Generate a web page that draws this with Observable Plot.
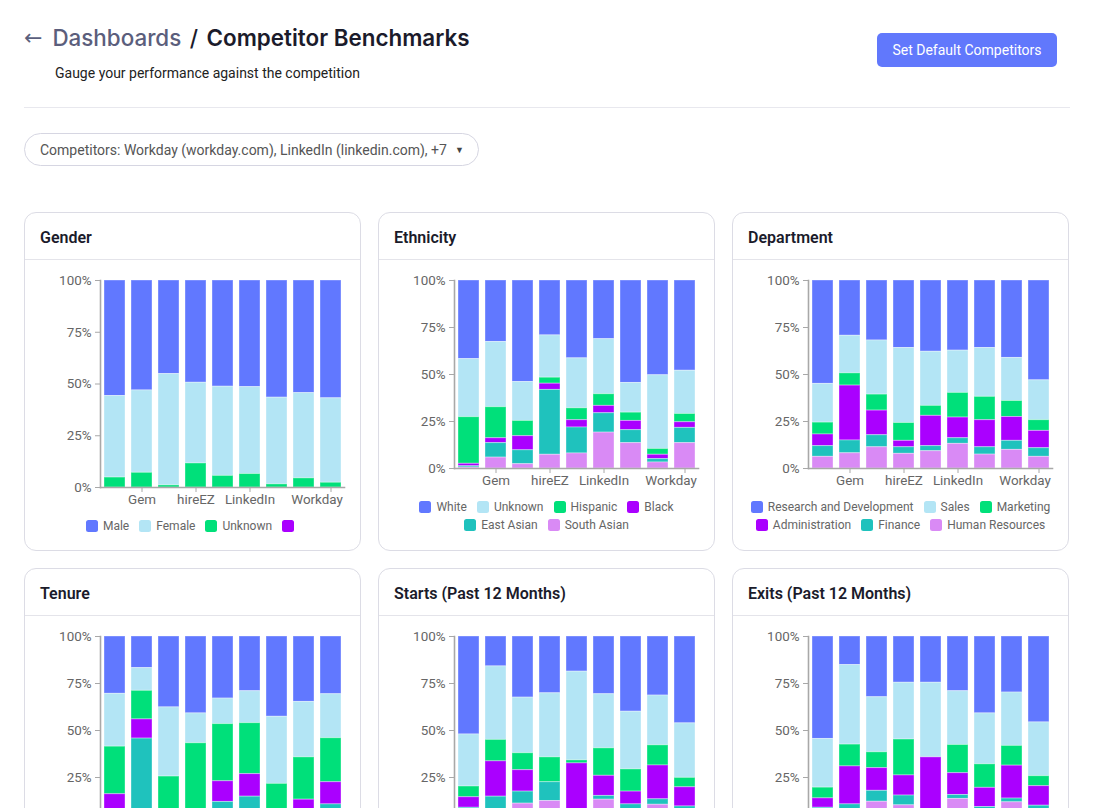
<!DOCTYPE html>
<html>
<head>
<meta charset="utf-8">
<script src="https://cdn.jsdelivr.net/npm/d3@7"></script>
<script src="https://cdn.jsdelivr.net/npm/@observablehq/plot@0.6"></script>
<style>
html,body{margin:0;padding:0;overflow:hidden;background:#fff;}
body{width:1102px;height:808px;position:relative;font-family:Roboto,sans-serif;}
.crumb{position:absolute;left:24px;top:22px;height:32px;line-height:32px;font-family:Inter,sans-serif;font-size:22.4px;white-space:nowrap;display:flex;align-items:center;}
.crumb .arrow{color:#5b5f7d;font-size:22px;margin-right:10px;margin-left:0;font-family:"DejaVu Sans",sans-serif;}
.crumb .parent{color:#5b5e7c;font-weight:500;}
.crumb .sep{color:#1b1b2b;margin:0 8.5px;font-weight:500;}
.crumb .cur{color:#1b1b2b;font-weight:600;}
.sub{position:absolute;left:55px;top:63px;line-height:20px;font-size:14px;color:#222;}
.btn{position:absolute;left:877px;top:33px;width:180px;height:34px;border-radius:5px;background:#6178FC;color:#fff;font-size:14px;display:flex;align-items:center;justify-content:center;}
.rule{position:absolute;left:24px;top:107px;width:1046px;height:1px;background:#e8e8ee;}
.pill{position:absolute;left:24px;top:133px;width:455px;height:33px;box-sizing:border-box;border:1px solid #d6d6e2;border-radius:17px;font-size:14px;color:#555;display:flex;align-items:center;padding-left:15px;white-space:nowrap;}
.pill .caret{margin-left:8px;font-size:9px;color:#444;}
.grid{position:absolute;left:24px;top:212px;display:grid;grid-template-columns:337px 337px 337px;column-gap:17px;row-gap:17px;}
.card{box-sizing:border-box;height:339px;border:1px solid #dcdce5;border-radius:12px;overflow:hidden;background:#fff;}
.card .head{border-bottom:1px solid #e4e4ea;display:flex;align-items:center;padding-left:15px;padding-top:3px;box-sizing:border-box;height:47px;}
.card .head span{font-size:16px;font-weight:600;color:#1b1b2b;}
.card svg.plot{display:block;}
.lg-swatches{min-height:0 !important;justify-content:center;margin:4px 8px 0 8px !important;font-family:Roboto,sans-serif !important;font-size:12px !important;color:#666 !important;}
.lg-swatch{margin:0 5px !important;line-height:18px;}
.lg-swatch > svg{margin-right:5px !important;}
.lg-swatch svg rect{rx:2.5px;ry:2.5px;}
</style>
</head>
<body>
<div class="crumb"><span class="arrow">←</span><span class="parent">Dashboards</span><span class="sep">/</span><span class="cur">Competitor Benchmarks</span></div>
<div class="sub">Gauge your performance against the competition</div>
<div class="btn">Set Default Competitors</div>
<div class="rule"></div>
<div class="pill">Competitors: Workday (workday.com), LinkedIn (linkedin.com), +7<span class="caret">▼</span></div>
<div class="grid" id="grid"></div>
<script>
// Competitors (9 bars); only some names are shown as tick labels
const companies = ["Ashby", "Gem", "Greenhouse", "hireEZ", "Lever", "LinkedIn", "SeekOut", "Eightfold", "Workday"];
const shownTicks = ["Gem", "hireEZ", "LinkedIn", "Workday"];
const innerTicks = ["Gem", "hireEZ", "LinkedIn"];
const edgeTicks = ["Workday"];

const palette = ["#6178FF", "#B3E5F5", "#00E07A", "#AA00FF", "#1FC2BD", "#D98AF5"];

// Gender
const genderCats = ["Male", "Female", "Unknown", ""];
const genderMale    = [55.8, 53.1, 45.2, 49.4, 51.3, 51.5, 56.6, 54.4, 56.9];
const genderFemale  = [39.4, 39.8, 53.8, 39.0, 43.1, 42.0, 41.9, 41.2, 40.8];
const genderUnknown = [4.8, 7.1, 1.0, 11.6, 5.6, 6.5, 1.5, 4.4, 2.3];
const genderOther   = [0, 0, 0, 0, 0, 0, 0, 0, 0];

// Ethnicity
const ethCats = ["White", "Unknown", "Hispanic", "Black", "East Asian", "South Asian"];
const ethWhite      = [41.8, 32.7, 54.0, 29.2, 41.4, 31.2, 54.5, 50.4, 48.0];
const ethUnknown    = [30.9, 34.7, 20.7, 22.5, 26.6, 29.3, 15.8, 39.2, 23.0];
const ethHispanic   = [24.8, 16.5, 8.1, 3.2, 6.3, 6.2, 4.4, 3.1, 4.4];
const ethBlack      = [1.3, 2.6, 7.5, 3.3, 3.9, 3.9, 4.9, 2.3, 3.0];
const ethEastAsian  = [0.7, 7.7, 7.4, 34.5, 13.8, 10.3, 6.9, 1.8, 8.1];
const ethSouthAsian = [0.5, 5.8, 2.3, 7.3, 8.0, 19.1, 13.5, 3.2, 13.5];

// Department
const deptCats = ["Research and Development", "Sales", "Marketing", "Administration", "Finance", "Human Resources"];
const deptRnD     = [55.0, 29.4, 31.9, 35.9, 37.9, 37.3, 35.9, 41.2, 53.1];
const deptSales   = [20.6, 20.0, 28.8, 39.9, 28.8, 22.5, 26.0, 22.9, 21.2];
const deptMkt     = [6.3, 6.5, 8.5, 9.5, 5.3, 13.1, 12.4, 8.5, 5.7];
const deptAdmin   = [6.2, 29.2, 13.1, 3.4, 16.1, 11.0, 14.4, 12.7, 9.2];
const deptFinance = [5.7, 6.8, 6.4, 3.5, 2.7, 3.0, 3.9, 4.8, 4.6];
const deptHR      = [6.2, 8.1, 11.3, 7.8, 9.2, 13.1, 7.4, 9.9, 6.2];

// Tenure
const tenureCats = ["5+ Years", "3-5 Years", "2-3 Years", "1-2 Years", "6-12 Months", "< 6 Months"];
const ten5plus = [30.5, 16.8, 37.7, 40.9, 33.0, 29.1, 42.7, 34.8, 30.7];
const ten3to5  = [28.1, 12.1, 36.8, 15.9, 13.6, 17.0, 35.7, 29.5, 23.4];
const ten2to3  = [25.3, 15.2, 20.5, 38.2, 30.4, 27.1, 17.6, 22.5, 23.4];
const ten1to2  = [11.1, 10.2, 0, 0, 11.0, 12.0, 0, 9.2, 11.8];
const ten6to12 = [3.0, 42.7, 3.0, 3.0, 9.0, 11.8, 2.5, 2.5, 8.2];
const tenLt6   = [2.0, 3.0, 2.0, 2.0, 3.0, 3.0, 1.5, 1.5, 2.5];

// Starts (Past 12 Months)
const startRnD     = [52.1, 15.9, 32.5, 30.2, 18.7, 30.7, 40.0, 31.4, 46.2];
const startSales   = [27.7, 39.1, 29.6, 34.1, 47.2, 28.8, 30.7, 26.5, 29.0];
const startMkt     = [5.7, 11.4, 9.0, 13.2, 1.6, 14.6, 11.8, 10.7, 5.0];
const startAdmin   = [5.6, 18.8, 11.4, 0, 30.0, 10.7, 6.8, 18.0, 10.2];
const startFinance = [4.9, 9.8, 6.4, 10.0, 1.0, 2.0, 7.7, 2.9, 6.6];
const startHR      = [4.0, 5.0, 11.1, 12.5, 1.5, 13.2, 3.0, 10.5, 3.0];

// Exits (Past 12 Months)
const exitRnD     = [54.5, 15.2, 32.3, 24.6, 24.6, 29.1, 40.9, 29.8, 45.7];
const exitSales   = [25.9, 42.3, 29.3, 30.2, 39.7, 28.6, 27.1, 28.4, 28.6];
const exitMkt     = [5.7, 11.6, 8.4, 19.1, 0, 15.0, 12.5, 10.5, 5.3];
const exitAdmin   = [5.0, 20.2, 12.1, 10.7, 33.7, 11.6, 10.2, 17.5, 10.4];
const exitFinance = [5.4, 6.7, 5.8, 5.2, 0.8, 2.1, 6.3, 2.0, 6.5];
const exitHR      = [3.5, 4.0, 12.1, 10.2, 1.2, 13.6, 3.0, 11.8, 3.5];

const charts = [
  {title: "Gender", cats: genderCats, series: [genderMale, genderFemale, genderUnknown, genderOther], plotH: 207},
  {title: "Ethnicity", cats: ethCats, series: [ethWhite, ethUnknown, ethHispanic, ethBlack, ethEastAsian, ethSouthAsian], plotH: 188},
  {title: "Department", cats: deptCats, series: [deptRnD, deptSales, deptMkt, deptAdmin, deptFinance, deptHR], plotH: 188},
  {title: "Tenure", cats: tenureCats, series: [ten5plus, ten3to5, ten2to3, ten1to2, ten6to12, tenLt6], plotH: 188},
  {title: "Starts (Past 12 Months)", cats: deptCats, series: [startRnD, startSales, startMkt, startAdmin, startFinance, startHR], plotH: 188},
  {title: "Exits (Past 12 Months)", cats: deptCats, series: [exitRnD, exitSales, exitMkt, exitAdmin, exitFinance, exitHR], plotH: 188}
];

const grid = document.getElementById("grid");
const axisGray = "#a8a8a8";

for (const c of charts) {
  const card = document.createElement("div");
  card.className = "card";
  const head = document.createElement("div");
  head.className = "head";
  const t = document.createElement("span");
  t.textContent = c.title;
  head.appendChild(t);
  card.appendChild(head);

  const data = [];
  c.cats.forEach((cat, i) => {
    c.series[i].forEach((v, j) => data.push({company: companies[j], category: cat, value: v}));
  });
  const colorRange = palette.slice(0, c.cats.length);
  const mt = 20, mb = 26;

  const chart = Plot.plot({
    width: 335,
    height: mt + c.plotH + mb,
    marginLeft: 75,
    marginRight: 16,
    marginTop: mt,
    marginBottom: mb,
    style: {fontFamily: "Roboto, sans-serif", fontSize: "13.4px", background: "transparent", overflow: "visible"},
    x: {domain: companies, paddingInner: 0.24, paddingOuter: 0.12, label: null},
    y: {domain: [0, 100], label: null},
    color: {domain: c.cats, range: colorRange},
    marks: [
      Plot.barY(data, Plot.stackY({
        x: "company", y: "value", fill: "category",
        order: [...c.cats].reverse(),
        stroke: "#ffffff", strokeOpacity: 0.35, strokeWidth: 1
      })),
      Plot.axisY({ticks: [0, 25, 50, 75, 100], tickFormat: d => d + "%", tickSize: 5, tickPadding: 4, stroke: axisGray, fill: "#666", label: null}),
      Plot.axisX(shownTicks, {tickSize: 5, tickFormat: () => "", stroke: axisGray, label: null}),
      Plot.axisX(innerTicks, {tickSize: 0, tickPadding: 7, fill: "#666", label: null}),
      Plot.axisX(edgeTicks, {tickSize: 0, tickPadding: 7, dx: -14, fill: "#666", label: null}),
      Plot.frame({anchor: "left", stroke: axisGray, strokeWidth: 1.6}),
      Plot.frame({anchor: "bottom", stroke: axisGray, strokeWidth: 1.6})
    ]
  });
  chart.classList.add("plot");
  card.appendChild(chart);

  const legend = Plot.legend({color: {domain: c.cats, range: colorRange}, legend: "swatches", swatchSize: 12, className: "lg"});
  card.appendChild(legend);
  grid.appendChild(card);
}
</script>
</body>
</html>
